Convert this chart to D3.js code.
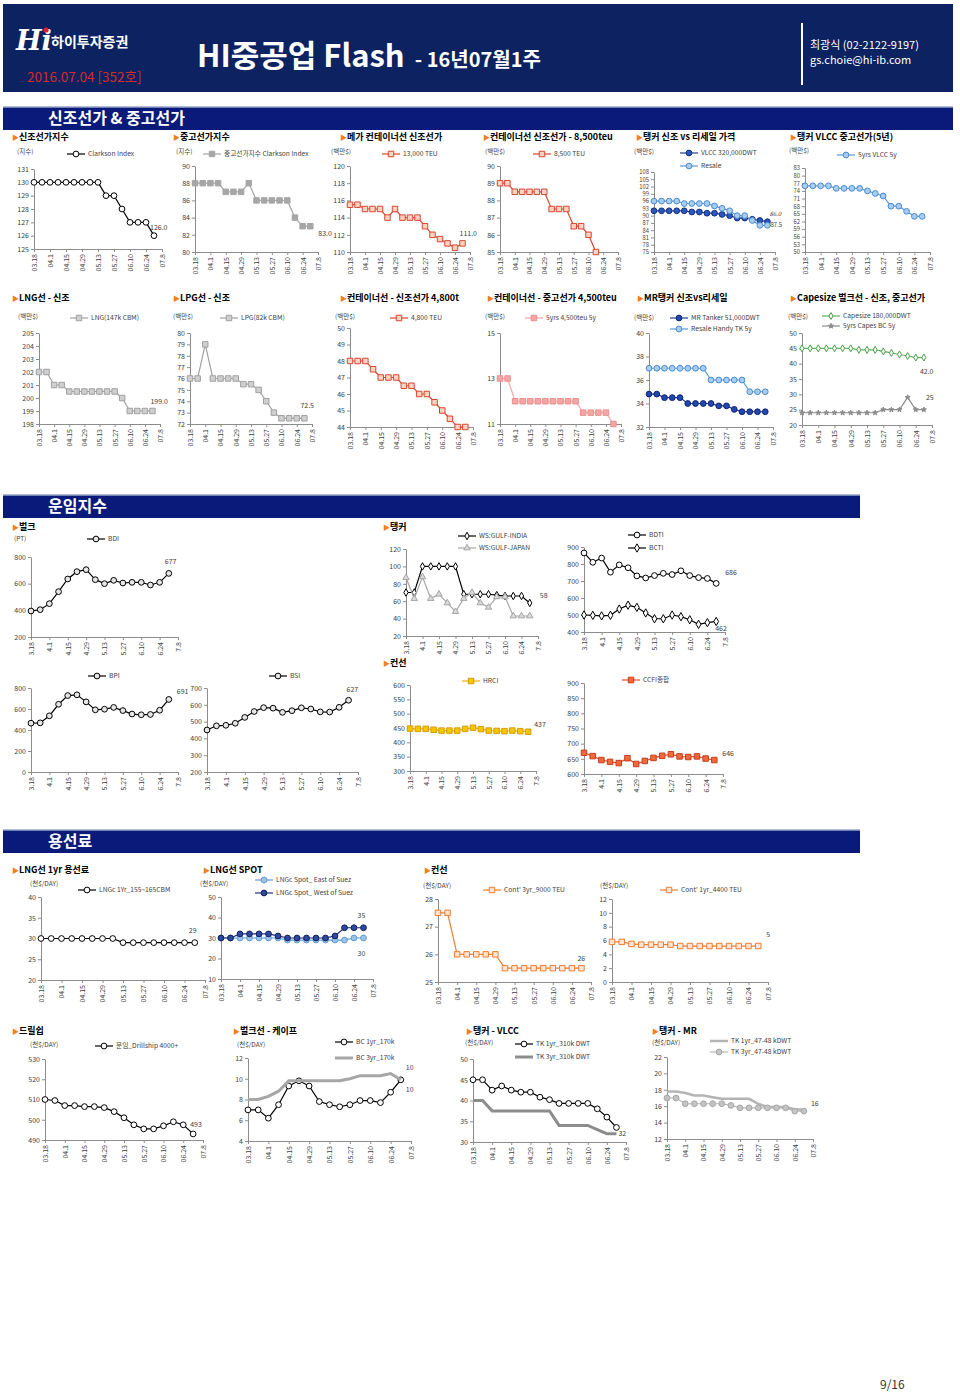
<!DOCTYPE html>
<html><head><meta charset="utf-8">
<script src="https://cdn.jsdelivr.net/npm/d3@7"></script>
<style>
body{margin:0;background:#fff;}
svg{display:block;font-family:"Noto Sans CJK KR","Noto Sans",sans-serif;}
</style></head><body><svg id="c" width="960" height="1393"></svg>
<script>
// ---------- categories & tick labels ----------
const categories = ["03.18","03.25","04.1","04.8","04.15","04.22","04.29","05.6","05.13","05.20","05.27","06.3","06.10","06.17","06.24","07.1","07.8"];
const tickLabelsDot = ["03.18","04.1","04.15","04.29","05.13","05.27","06.10","06.24","07.8"];
const tickLabelsShort = ["3.18","4.1","4.15","4.29","5.13","5.27","6.10","6.24","7.8"];

// ---------- series values ----------
const clarksonNB = [130,130,130,130,130,130,130,130,130,129,129,128,127,127,127,126];
const clarksonSH = [88,88,88,88,87,87,87,88,86,86,86,86,86,84,83,83];
const teu13000 = [115.5,115.5,115,115,115,114,115,114,114,114,113,112,111.5,111,110.5,111];
const teu8500 = [89,89,88.5,88.5,88.5,88.5,88.5,87.5,87.5,87.5,86.5,86.5,86,85];
const vlccNB = [92,92,92,92,92,91.5,91.5,91,91,90.5,90,89,89,88.5,88,87.5];
const vlccResale = [96,96,96,96,95,95,95,95,94,93,92,90,90,88,86,86];
const vlcc5y = [76,76,76,76,75,75,75,75,74,73,72,68,68,66,64,64];
const lng147 = [202,202,201,201,200.5,200.5,200.5,200.5,200.5,200.5,200.5,200,199,199,199,199];
const lpg82 = [76,76,79,76,76,76,76,75.5,75.5,75,74,73,72.5,72.5,72.5,72.5];
const teu4800 = [48,48,48,47.5,47,47,47,46.5,46.5,46,46,45.5,45,44.5,44,44];
const teu4500sh = [13,13,12,12,12,12,12,12,12,12,12,11.5,11.5,11.5,11.5,11];
const mrNB = [34.8,34.8,34.5,34.5,34.5,34,34,34,34,33.8,33.8,33.5,33.3,33.3,33.3,33.3];
const mrResale = [37,37,37,37,37,37,37,37,36,36,36,36,36,35,35,35];
const capeNB = [45,45,45,45,45,45,45,44.5,44.5,44.5,44,43.5,43,42.5,42,42];
const cape5y = [24,24,24,24,24,24,24,24,24,24,25,25,25,29,25,25];
const bdi = [395,405,450,540,635,690,705,630,600,625,605,610,610,590,610,677];
const wsGulfIndia = [70,70,100,100,100,100,100,68,68,68,68,67,66,66,66,58];
const wsGulfJapan = [87,63,88,63,68,58,48,63,70,58,53,65,65,43,43,43];
const bdti = [865,810,835,752,795,778,730,718,732,745,738,760,732,720,715,686];
const bcti = [500,498,495,498,535,558,545,512,478,478,500,490,472,445,455,462];
const bpi = [465,468,535,645,728,735,668,592,598,615,585,552,545,548,588,691];
const bsi = [450,475,478,490,525,560,583,580,555,565,582,575,558,557,585,627];
const hrci = [448,447,447,444,441,441,441,447,451,446,441,440,439,441,439,437];
const ccfi = [670,659,646,640,636,652,633,643,653,660,665,658,656,658,651,646];
const lng1yr = [30,30,30,30,30,30,30,30,29,29,29,29,29,29,29,29];
const lngEast = [30,30,30,30,30,30,30,29,29,29,29,29,29,29,30,30];
const lngWest = [30,30,32,32,32,32,31,30,30,30,30,30,31,35,35,35];
const cont3yr9000 = [27.5,27.5,26,26,26,26,26,25.5,25.5,25.5,25.5,25.5,25.5,25.5,25.5,25.5];
const cont1yr4400 = [5.8,5.8,5.5,5.4,5.4,5.4,5.4,5.2,5.2,5.2,5.2,5.2,5.2,5.2,5.2,5.2];
const drillship = [510,509.5,507,507,506.5,506.5,506,504,501,497.5,495.5,495.5,497,499,497.5,493];
const bc1yr = [7,7,6.2,7.5,9.3,9.8,9.3,7.8,7.5,7.3,7.5,7.9,7.9,7.7,8.7,9.9];
const bc3yr = [8,8,8.3,8.8,9.8,9.8,9.8,9.8,9.8,9.8,10,10.3,10.3,10.3,10.5,9.9];
const tk1yr = [45,45,42.5,43.5,42.5,42,42,40.8,40.2,39.3,39.3,39.3,39.3,38,36,33.5];
const tk3yr = [40,40,37.5,37.5,37.5,37.5,37.5,37.5,37.5,34,34,34,34,33,32,32];
const mr1yr = [17.8,17.8,17.6,17.3,17.3,17.1,16.9,16.9,16.9,16.9,16.3,15.9,15.9,15.9,15.6,15.6];
const mr3yr = [17,17,16.3,16.3,16.3,16.3,16.3,16.1,15.8,15.8,15.8,15.8,15.8,15.8,15.4,15.4];

// ---------- styles ----------
const ST = {
  blackCircle:{color:"#000",marker:"circle",fill:"#fff",stroke:"#000"},
  blackCircleG:{color:"#000",marker:"circle",fill:"#e6e6e6",stroke:"#000"},
  graySq:{color:"#a6a6a6",marker:"square",fill:"#a6a6a6",stroke:"#a6a6a6"},
  redSq:{color:"#d9462c",marker:"square",fill:"#fbd3c5",stroke:"#d9462c"},
  darkBlue:{color:"#1f3f8f",marker:"circle",fill:"#2b57c0",stroke:"#14307a"},
  lightBlue:{color:"#5b9bd5",marker:"circle",fill:"#a9cdef",stroke:"#4a8bd0"},
  lightGraySq:{color:"#a0a0a0",marker:"square",fill:"#cfcfcf",stroke:"#a0a0a0"},
  pinkSq:{color:"#f4a6a6",marker:"square",fill:"#f4a6a6",stroke:"#ec8f8f"},
  mrBlue:{color:"#1f3d99",marker:"circle",fill:"#2347b0",stroke:"#0e2570"},
  greenDia:{color:"#5cb85c",marker:"diamond",fill:"#fff",stroke:"#4a9e4a",size:14},
  grayStar:{color:"#8c8c8c",marker:"star",fill:"#8c8c8c",stroke:"#8c8c8c",size:8},
  blackDia:{color:"#000",marker:"diamond",fill:"#fff",stroke:"#000",size:16},
  blackDiaB:{color:"#000",marker:"diamond",fill:"#fff",stroke:"#000",size:20},
  grayTri:{color:"#a6a6a6",marker:"triangle",fill:"#d9d9d9",stroke:"#a6a6a6",size:18},
  yellowSq:{color:"#f0b000",marker:"square",fill:"#f7c600",stroke:"#d99a00"},
  ccfiSq:{color:"#e2502a",marker:"square",fill:"#f26a3c",stroke:"#c63c1c"},
  eastBlue:{color:"#5b9bd5",marker:"circle",fill:"#9dc3e6",stroke:"#5b9bd5"},
  westNavy:{color:"#1f2f80",marker:"circle",fill:"#2e4aa0",stroke:"#14205e"},
  orangeSq:{color:"#ed7d31",marker:"square",fill:"#fde5d5",stroke:"#ed7d31"},
  thickGray:{color:"#a6a6a6",width:3},
  thickDGray:{color:"#8c8c8c",width:3},
  lightGrayLine:{color:"#b4b4b4",width:2.5},
  grayCircle:{color:"#b8b8b8",marker:"circle",fill:"#c4c4c4",stroke:"#a6a6a6"}
};

const svg = d3.select("#c");
const FS = 7;
const symbolTypes = {circle:d3.symbolCircle,square:d3.symbolSquare,diamond:d3.symbolDiamond,triangle:d3.symbolTriangle,star:d3.symbolStar};
const symSize = {circle:26,square:30,diamond:22,triangle:22,star:12};

function drawMarker(g,s,cx,cy){
  if(!s.marker) return;
  g.append("path").attr("transform",`translate(${cx},${cy})`)
    .attr("d",d3.symbol(symbolTypes[s.marker],s.size||symSize[s.marker])())
    .attr("fill",s.fill).attr("stroke",s.stroke).attr("stroke-width",1);
}

function chart(cfg){
  const g = svg.append("g");
  const x = d3.scalePoint().domain(d3.range(categories.length)).range([cfg.x0,cfg.x1]);
  const y = d3.scaleLinear().domain(cfg.domain).range([cfg.y1,cfg.y0]);
  const labels = cfg.short ? tickLabelsShort : tickLabelsDot;
  const ya = g.append("g").attr("transform",`translate(${cfg.x0},0)`)
    .call(d3.axisLeft(y).tickValues(cfg.ticks).tickSize(3).tickSizeOuter(0).tickFormat(d3.format("d")));
  const xa = g.append("g").attr("transform",`translate(0,${cfg.y1})`)
    .call(d3.axisBottom(x).tickValues(d3.range(0,categories.length,2)).tickSize(3).tickSizeOuter(0).tickFormat((d,i)=>labels[i]));
  [ya,xa].forEach(a=>{
    a.selectAll("path.domain").attr("stroke","#8c8c8c");
    a.selectAll("line").attr("stroke","#8c8c8c");
    a.selectAll("text").attr("fill","#404040").attr("font-size",FS).attr("font-family","Noto Sans CJK KR");
  });
  ya.selectAll("text").attr("x",-5).attr("font-size",cfg.yfs||FS);
  xa.selectAll("text").attr("transform","rotate(-90)").attr("text-anchor","end")
    .attr("x",-5).attr("y",0).attr("dy","0.35em");
  cfg.series.forEach(s=>{
    const st = Object.assign({},ST[s.style]);
    const pts = s.values.map((v,i)=>[i,v]);
    g.append("path").attr("d",d3.line().x(p=>x(p[0])).y(p=>y(p[1]))(pts))
      .attr("fill","none").attr("stroke",st.color).attr("stroke-width",st.width||1.2);
    if(st.marker) pts.forEach(p=>drawMarker(g,st,x(p[0]),y(p[1])));
  });
  (cfg.labels||[]).forEach(l=>{
    const s = cfg.series[l.s||0];
    const i = s.values.length-1;
    g.append("text").attr("x",x(i)+l.dx).attr("y",y(s.values[i])+l.dy)
      .attr("font-size",l.fs||FS).attr("fill","#404040").attr("font-style",l.italic?"italic":null).text(l.text);
  });
  if(cfg.unit) g.append("text").attr("x",cfg.unit[1]).attr("y",cfg.unit[2]).attr("font-size",FS-0.5).attr("fill","#404040").text(cfg.unit[0]);
  (cfg.legend||[]).forEach((l,k)=>{
    const st = ST[cfg.series[k].style];
    const lx=l[1], ly=l[2];
    g.append("line").attr("x1",lx).attr("x2",lx+18).attr("y1",ly).attr("y2",ly)
      .attr("stroke",st.color).attr("stroke-width",st.width||1.2);
    drawMarker(g,st,lx+9,ly);
    g.append("text").attr("x",lx+21).attr("y",ly).attr("dy","0.35em").attr("font-size",FS-0.3).attr("fill","#404040").text(l[0]);
  });
}

function title(txt,x,y){
  const t = svg.append("text").attr("x",x).attr("y",y).attr("font-size",9).attr("font-weight","bold");
  t.append("tspan").attr("fill","#f08020").attr("font-size",7).text("▶");
  t.append("tspan").attr("fill","#000").text(txt);
}
function banner(txt,y,w){
  svg.append("rect").attr("x",3).attr("y",y).attr("width",w).attr("height",23).attr("fill","#0a1a7a");
  svg.append("line").attr("x1",3).attr("x2",3+w).attr("y1",y).attr("y2",y).attr("stroke","#9aa3c8").attr("stroke-width",1.5);
  svg.append("text").attr("x",48).attr("y",y+17).attr("fill","#fff").attr("font-size",16).attr("font-weight","bold").text(txt);
}

// ---------- header ----------
svg.append("rect").attr("x",3).attr("y",4).attr("width",950).attr("height",88).attr("fill","#0d2260");
svg.append("text").attr("x",16).attr("y",50).attr("fill","#fff").attr("font-size",27).attr("font-weight","bold")
  .attr("font-style","italic").attr("font-family","DejaVu Serif").text("Hi");
svg.append("circle").attr("cx",46).attr("cy",30).attr("r",2.6).attr("fill","#e0202a");
svg.append("text").attr("x",51).attr("y",47).attr("fill","#fff").attr("font-size",14).attr("font-weight","bold").text("하이투자증권");
svg.append("text").attr("x",27).attr("y",82).attr("fill","#d42b2b").attr("font-size",13.5).text("2016.07.04 [352호]");
const ht = svg.append("text").attr("x",197).attr("y",67).attr("fill","#fff").attr("font-weight","bold");
ht.append("tspan").attr("font-size",31).text("HI중공업 Flash");
ht.append("tspan").attr("font-size",20).attr("dx",10).text("- 16년07월1주");
svg.append("rect").attr("x",801).attr("y",23).attr("width",2).attr("height",62).attr("fill","#fff");
svg.append("text").attr("x",810).attr("y",49).attr("fill","#fff").attr("font-size",11).text("최광식 (02-2122-9197)");
svg.append("text").attr("x",810).attr("y",64).attr("fill","#fff").attr("font-size",11).text("gs.choie@hi-ib.com");

// ---------- section 1 ----------
banner("신조선가 & 중고선가",107,950);
title("신조선가지수",12,140);
title("중고선가지수",173,140);
title("메가 컨테이너선 신조선가",340,140);
title("컨테이너선 신조선가 - 8,500teu",483,140);
title("탱커 신조 vs 리세일 가격",636,140);
title("탱커 VLCC 중고선가(5년)",790,140);

chart({x0:34,x1:162,y0:169,y1:249,domain:[125,131],ticks:d3.range(125,132,1),
  series:[{values:clarksonNB,style:"blackCircle"}],unit:["(지수)",17,154],
  legend:[["Clarkson Index",67,154]],labels:[{text:"126.0",dx:-4,dy:-6}]});
chart({x0:195,x1:318,y0:166,y1:252,domain:[80,90],ticks:d3.range(80,91,2),
  series:[{values:clarksonSH,style:"graySq"}],unit:["(지수)",176,154],
  legend:[["중고선가지수  Clarkson Index",203,154]],labels:[{text:"83.0",dx:8,dy:10}]});
chart({x0:350,x1:470,y0:166,y1:252,domain:[110,120],ticks:d3.range(110,121,2),
  series:[{values:teu13000,style:"redSq"}],unit:["(백만$)",331,154],
  legend:[["13,000 TEU",382,154]],labels:[{text:"111.0",dx:-3,dy:-7}]});
chart({x0:500,x1:618,y0:166,y1:252,domain:[85,90],ticks:d3.range(85,91,1),
  series:[{values:teu8500,style:"redSq"}],unit:["(백만$)",485,154],
  legend:[["8,500 TEU",533,154]]});
chart({x0:654,x1:775,y0:172,y1:252,domain:[75,108],ticks:d3.range(75,109,3),yfs:5.8,
  series:[{values:vlccNB,style:"darkBlue"},{values:vlccResale,style:"lightBlue"}],unit:["(백만$)",634,154],
  legend:[["VLCC 320,000DWT",680,153],["Resale",680,166]],
  labels:[{text:"87.5",s:0,dx:3,dy:5,fs:6},{text:"86.0",s:1,dx:2,dy:-9,italic:true,fs:6}]});
chart({x0:805,x1:930,y0:168,y1:252,domain:[50,83],ticks:d3.range(50,84,3),yfs:5.8,
  series:[{values:vlcc5y,style:"lightBlue"}],unit:["(백만$)",789,153],
  legend:[["5yrs VLCC 5y",837,155]]});

// ---------- row 2 ----------
title("LNG선 - 신조",12,301);
title("LPG선 - 신조",173,301);
title("컨테이너선 - 신조선가 4,800t",340,301);
title("컨테이너선 - 중고선가 4,500teu",487,301);
title("MR탱커 신조vs리세일",637,301);
title("Capesize 벌크선 - 신조, 중고선가",790,301);

chart({x0:39,x1:160,y0:333,y1:424,domain:[198,205],ticks:d3.range(198,206,1),
  series:[{values:lng147,style:"lightGraySq"}],unit:["(백만$)",18,319],
  legend:[["LNG(147k CBM)",70,318]],labels:[{text:"199.0",dx:-2,dy:-7}]});
chart({x0:190,x1:312,y0:333,y1:424,domain:[72,80],ticks:d3.range(72,81,1),
  series:[{values:lpg82,style:"lightGraySq"}],unit:["(백만$)",173,319],
  legend:[["LPG(82k CBM)",220,318]],labels:[{text:"72.5",dx:-4,dy:-10}]});
chart({x0:350,x1:473,y0:328,y1:427,domain:[44,50],ticks:d3.range(44,51,1),
  series:[{values:teu4800,style:"redSq"}],unit:["(백만$)",335,319],
  legend:[["4,800 TEU",390,318]]});
chart({x0:500,x1:621,y0:333,y1:424,domain:[11,15],ticks:[11,13,15],
  series:[{values:teu4500sh,style:"pinkSq"}],unit:["(백만$)",485,319],
  legend:[["5yrs 4,500teu 5y",525,318]]});
chart({x0:649,x1:773,y0:333,y1:427,domain:[32,40],ticks:d3.range(32,41,2),
  series:[{values:mrNB,style:"mrBlue"},{values:mrResale,style:"lightBlue"}],unit:["(백만$)",634,320],
  legend:[["MR Tanker 51,000DWT",670,318],["Resale Handy TK 5y",670,329]]});
chart({x0:802,x1:932,y0:333,y1:425,domain:[20,50],ticks:d3.range(20,51,5),
  series:[{values:capeNB,style:"greenDia"},{values:cape5y,style:"grayStar"}],unit:["(백만$)",788,319],
  legend:[["Capesize 180,000DWT",822,316],["5yrs Capes BC 5y",822,326]],
  labels:[{text:"42.0",s:0,dx:-4,dy:16},{text:"25",s:1,dx:2,dy:-10}]});

// ---------- section 2 ----------
banner("운임지수",495,857);
title("벌크",12,530);
title("탱커",383,530);
title("컨선",383,666);

chart({x0:31,x1:178,y0:557,y1:637,domain:[200,800],ticks:d3.range(200,801,200),short:true,
  series:[{values:bdi,style:"blackCircleG"}],unit:["(PT)",14,541],
  legend:[["BDI",87,539]],labels:[{text:"677",dx:-4,dy:-9}]});
chart({x0:406,x1:538,y0:549,y1:636,domain:[20,120],ticks:d3.range(20,121,20),short:true,
  series:[{values:wsGulfIndia,style:"blackDia"},{values:wsGulfJapan,style:"grayTri"}],
  legend:[["WS:GULF-INDIA",458,536],["WS:GULF-JAPAN",458,548]],labels:[{text:"58",s:0,dx:10,dy:-5}]});
chart({x0:584,x1:725,y0:547,y1:632,domain:[400,900],ticks:d3.range(400,901,100),short:true,
  series:[{values:bdti,style:"blackCircle"},{values:bcti,style:"blackDiaB"}],
  legend:[["BDTI",628,535],["BCTI",628,548]],
  labels:[{text:"686",s:0,dx:9,dy:-8},{text:"462",s:1,dx:-1,dy:10}]});
chart({x0:31,x1:178,y0:688,y1:772,domain:[0,800],ticks:d3.range(0,801,200),short:true,
  series:[{values:bpi,style:"blackCircleG"}],
  legend:[["BPI",88,676]],labels:[{text:"691",dx:8,dy:-5}]});
chart({x0:207,x1:358,y0:688,y1:772,domain:[200,700],ticks:d3.range(200,701,100),short:true,
  series:[{values:bsi,style:"blackCircleG"}],
  legend:[["BSI",269,676]],labels:[{text:"627",dx:-2,dy:-8}]});
chart({x0:410,x1:536,y0:685,y1:771,domain:[300,600],ticks:d3.range(300,601,50),short:true,
  series:[{values:hrci,style:"yellowSq"}],
  legend:[["HRCI",462,681]],labels:[{text:"437",dx:6,dy:-5}]});
chart({x0:584,x1:723,y0:683,y1:774,domain:[600,900],ticks:d3.range(600,901,50),short:true,
  series:[{values:ccfi,style:"ccfiSq"}],
  legend:[["CCFI종합",622,680]],labels:[{text:"646",dx:8,dy:-4}]});

// ---------- section 3 ----------
banner("용선료",830,857);
title("LNG선 1yr 용선료",12,873);
title("LNG선 SPOT",203,873);
title("컨선",424,873);
title("드릴쉽",12,1034);
title("벌크선 - 케이프",233,1034);
title("탱커 - VLCC",466,1034);
title("탱커 - MR",652,1034);

chart({x0:41,x1:205,y0:897,y1:980,domain:[20,40],ticks:d3.range(20,41,5),
  series:[{values:lng1yr,style:"blackCircle"}],unit:["(천$/DAY)",30,886],
  legend:[["LNGc 1Yr_155~165CBM",78,890]],labels:[{text:"29",dx:-6,dy:-10}]});
chart({x0:221,x1:373,y0:897,y1:979,domain:[10,50],ticks:d3.range(10,51,10),
  series:[{values:lngEast,style:"eastBlue"},{values:lngWest,style:"westNavy"}],unit:["(천$/DAY)",200,886],
  legend:[["LNGc Spot_ East of Suez",255,880],["LNGc Spot_ West of Suez",255,893]],
  labels:[{text:"30",s:0,dx:-6,dy:18},{text:"35",s:1,dx:-6,dy:-10}]});
chart({x0:438,x1:591,y0:899,y1:982,domain:[25,28],ticks:d3.range(25,29,1),
  series:[{values:cont3yr9000,style:"orangeSq"}],unit:["(천$/DAY)",423,888],
  legend:[["Cont' 3yr_9000 TEU",483,890]],labels:[{text:"26",dx:-4,dy:-7}]});
chart({x0:612,x1:768,y0:899,y1:982,domain:[0,12],ticks:d3.range(0,13,2),
  series:[{values:cont1yr4400,style:"orangeSq"}],unit:["(천$/DAY)",600,888],
  legend:[["Cont' 1yr_4400 TEU",660,890]],labels:[{text:"5",dx:8,dy:-9}]});
chart({x0:45,x1:203,y0:1059,y1:1140,domain:[490,530],ticks:d3.range(490,531,10),
  series:[{values:drillship,style:"blackCircle"}],unit:["(천$/DAY)",30,1047],
  legend:[["운임_Drillship 4000+",95,1046]],labels:[{text:"493",dx:-3,dy:-7}]});
chart({x0:248,x1:411,y0:1058,y1:1141,domain:[4,12],ticks:d3.range(4,13,2),
  series:[{values:bc1yr,style:"blackCircle"},{values:bc3yr,style:"thickGray"}],unit:["(천$/DAY)",237,1047],
  legend:[["BC 1yr_170k",335,1042],["BC 3yr_170k",335,1058]],
  labels:[{text:"10",s:1,dx:5,dy:-10},{text:"10",s:0,dx:5,dy:12}]});
chart({x0:473,x1:626,y0:1059,y1:1142,domain:[30,50],ticks:d3.range(30,51,5),
  series:[{values:tk1yr,style:"blackCircle"},{values:tk3yr,style:"thickDGray"}],unit:["(천$/DAY)",465,1045],
  legend:[["TK 1yr_310k DWT",515,1044],["TK 3yr_310k DWT",515,1057]],
  labels:[{text:"32",s:1,dx:2,dy:2}]});
chart({x0:667,x1:813,y0:1057,y1:1139,domain:[12,22],ticks:d3.range(12,23,2),
  series:[{values:mr1yr,style:"lightGrayLine"},{values:mr3yr,style:"grayCircle"}],unit:["(천$/DAY)",652,1045],
  legend:[["TK 1yr_47-48 kDWT",710,1041],["TK 3yr_47-48 kDWT",710,1052]],
  labels:[{text:"16",s:1,dx:7,dy:-5}]});

svg.append("text").attr("x",880).attr("y",1389).attr("font-size",12).attr("fill","#333").text("9/16");
</script></body></html>
